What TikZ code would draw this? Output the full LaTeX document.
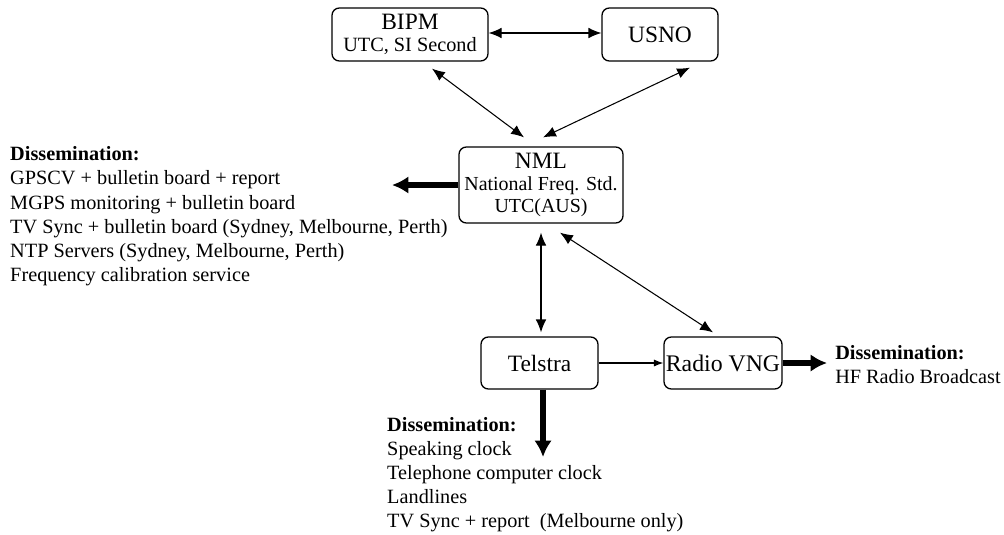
\documentclass[tikz,border=0pt]{standalone}
\usepackage{fontspec}
\setmainfont{Liberation Serif}
\usepackage{tikz}
\usetikzlibrary{calc,arrows.meta}
\tikzset{
  unit/.style={draw, rounded corners=0.22cm, line width=1.1pt, inner sep=0pt,
    align=center, font=\fontsize{20}{18.4}\selectfont},
  lst/.style={align=left, inner sep=0pt, font=\fontsize{17.3}{20.5}\selectfont},
  tw/.style={draw, line width=0.9pt, {Latex[length=11pt,width=9pt]}-{Latex[length=11pt,width=9pt]}},
  ow/.style={draw, line width=0.9pt, -{Latex[length=8pt,width=6pt]}},
  thk/.style={draw, line width=4.6pt, -{Latex[length=14pt,width=15pt]}}
}
\begin{document}
\begin{tikzpicture}[scale=1.0]
  \useasboundingbox (0,0) rectangle (30.12,-16.02);

  % boxes
  \node[unit, minimum width=4.68cm, minimum height=1.59cm] (bipm) at (12.3,-1.035)
    {BIPM\\{\fontsize{17.3}{18}\selectfont UTC, SI Second}};
  \node[unit, minimum width=3.48cm, minimum height=1.59cm] (usno) at (19.8,-1.035) {USNO};
  \node[unit, minimum width=4.92cm, minimum height=2.28cm] (nml) at (16.23,-5.55)
    {NML\\{\fontsize{17}{18}\selectfont National Freq. Std.}\\{\fontsize{17}{18}\selectfont UTC(AUS)}};
  \node[unit, minimum width=3.51cm, minimum height=1.56cm] (telstra) at (16.185,-10.89) {Telstra};
  \node[unit, minimum width=3.54cm, minimum height=1.56cm, font=\fontsize{20.3}{20}\selectfont] (radio) at (21.69,-10.89) {Radio VNG};

  % links
  \draw[tw] (bipm.east |- 0,-0.99) -- (usno.west |- 0,-0.99);
  \draw[tw] ([xshift=0.66cm,yshift=-0.21cm]bipm.south) -- ([xshift=-0.51cm,yshift=0.27cm]nml.north);
  \draw[tw] ([xshift=0.9cm,yshift=-0.18cm]usno.south) -- ([xshift=0.06cm,yshift=0.27cm]nml.north);
  \draw[tw] ([yshift=-0.27cm]nml.south) -- ([yshift=0.12cm]nml.south |- telstra.north);
  \draw[tw] ([xshift=0.57cm,yshift=-0.27cm]nml.south) -- ([xshift=-0.3cm,yshift=0.12cm]radio.north);
  \draw[ow] (telstra.east) -- (radio.west);

  % dissemination
  \coordinate (lt) at (11.76,-5.55);
  \coordinate (rt) at (24.81,-10.89);
  \coordinate (dt) at (16.29,-13.71);
  \draw[thk] (nml.west) -- (lt);
  \draw[thk] (radio.east) -- (rt);
  \draw[thk] (dt |- telstra.south) -- (dt);

  \node[lst, anchor=north west] (dleft) at (0.3,-4.4)
    {\textbf{Dissemination:}\\GPSCV + bulletin board + report\\MGPS monitoring + bulletin board\\
     TV Sync + bulletin board (Sydney, Melbourne, Perth)\\NTP Servers (Sydney, Melbourne, Perth)\\
     Frequency calibration service};
  \node[lst, anchor=north west] (dright) at (25.05,-10.35)
    {\textbf{Dissemination:}\\HF Radio Broadcast};
  \node[lst, anchor=north west] (dbottom) at (11.61,-12.51)
    {\textbf{Dissemination:}\\Speaking clock\\Telephone computer clock\\Landlines\\
     TV Sync + report~~(Melbourne only)};
\end{tikzpicture}
\end{document}
